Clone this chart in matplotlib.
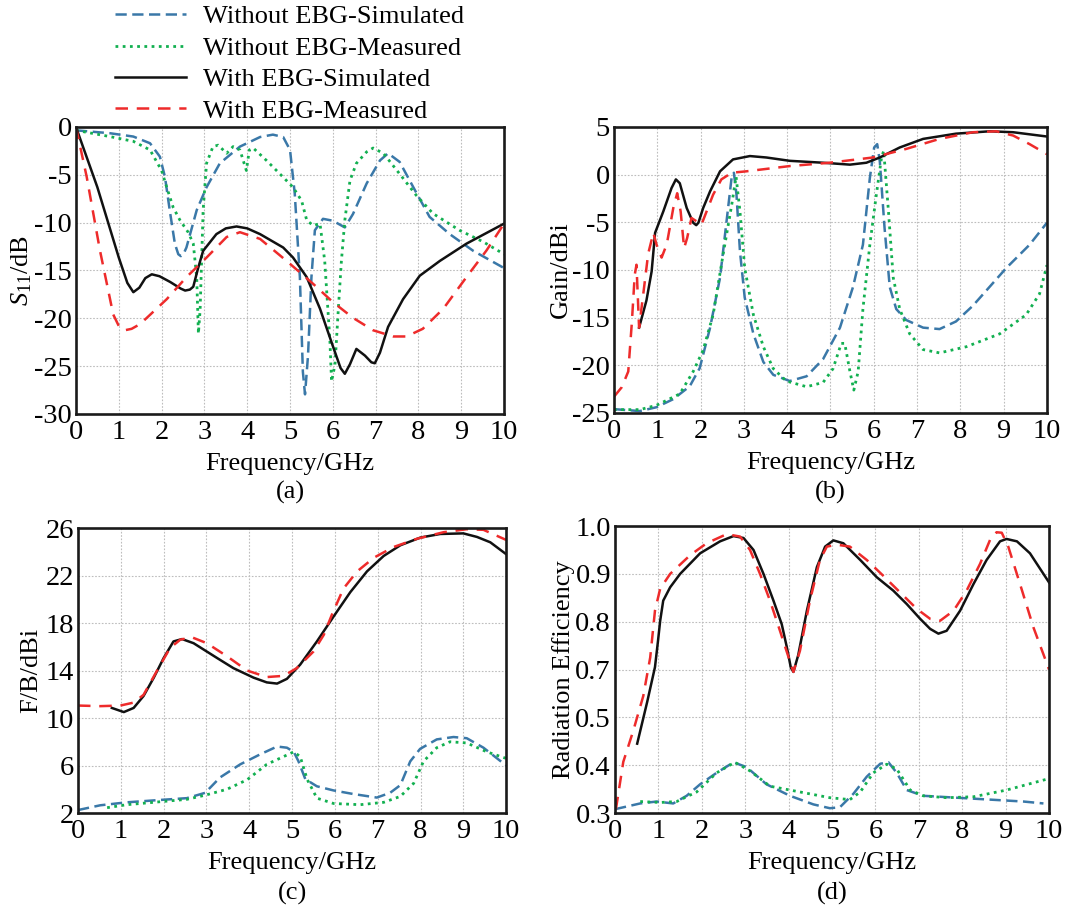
import numpy as np
import matplotlib
matplotlib.use('Agg')
import matplotlib.pyplot as plt

plt.rcParams['font.family'] = ['Liberation Serif', 'DejaVu Serif']
plt.rcParams['mathtext.fontset'] = 'custom'
plt.rcParams['mathtext.rm'] = 'Liberation Serif'
plt.rcParams['mathtext.it'] = 'Liberation Serif:italic'
plt.rcParams['axes.unicode_minus'] = False

BLUE = '#3a78a8'
GREEN = '#12b050'
RED = '#ee2b2b'
BLACK = '#111111'

labels = ['Without EBG-Simulated', 'Without EBG-Measured',
          'With EBG-Simulated', 'With EBG-Measured']

# ---------------- (a) S11 ----------------
s11_wo_sim_f = [0, 0.79, 1.34, 1.73, 1.96, 2.08, 2.19, 2.31, 2.39, 2.45, 2.52, 2.58, 2.82, 3.05,
                3.36, 3.83, 4.3, 4.6, 4.84, 5.0, 5.11, 5.23, 5.3, 5.35, 5.42, 5.5, 5.58, 5.77,
                6.0, 6.28, 6.47, 6.79, 7.1, 7.29, 7.56, 7.88, 8.26, 8.73, 9.28, 10]
s11_wo_sim = [-0.35, -0.65, -1.0, -1.7, -3.1, -5.25, -8.7, -12.2, -13.3, -13.5, -13.2, -12.6,
              -8.7, -6.3, -3.8, -2.05, -1.05, -0.8, -1.05, -2.4, -6.95, -15.7, -25.6, -27.95,
              -23.9, -15.7, -10.8, -9.6, -9.8, -10.5, -9.1, -5.9, -3.5, -2.75, -3.65, -6.3,
              -9.4, -11.2, -12.95, -14.75]

s11_wo_mea_f = [0, 0.79, 1.34, 1.73, 2.0, 2.12, 2.27, 2.43, 2.62, 2.74, 2.82, 2.86, 2.9, 2.97,
                3.05, 3.2, 3.32, 3.52, 3.67, 3.83, 3.98, 4.05, 4.14, 4.45, 4.84, 5.07, 5.27,
                5.39, 5.54, 5.7, 5.81, 5.93, 5.97, 6.05, 6.13, 6.2, 6.28, 6.4, 6.55, 6.79,
                6.94, 7.18, 7.56, 7.95, 8.34, 8.96, 9.51, 10]
s11_wo_mea = [-0.35, -1.0, -1.5, -2.4, -4.55, -6.3, -8.4, -9.75, -11.0, -12.2, -15.7, -21.6,
              -19.1, -8.7, -3.8, -2.05, -1.9, -2.75, -2.05, -2.4, -4.55, -2.4, -2.2, -3.5,
              -5.25, -6.3, -7.7, -9.75, -10.3, -10.1, -14.0, -22.2, -26.6, -24.85, -18.9,
              -14.0, -9.75, -5.6, -3.8, -2.6, -2.2, -2.75, -4.9, -7.15, -9.05, -10.8, -12.0, -13.3]

s11_w_sim_f = [0, 0.5, 1.0, 1.2, 1.34, 1.48, 1.62, 1.77, 1.95, 2.2, 2.45, 2.55, 2.66, 2.74, 2.85,
               2.97, 3.28, 3.5, 3.75, 4.0, 4.3, 4.84, 5.07, 5.39, 5.7, 6.0, 6.18, 6.28, 6.4,
               6.55, 6.75, 6.9, 6.98, 7.1, 7.29, 7.64, 8.03, 8.5, 9.12, 10]
s11_w_sim = [0, -6.3, -13.65, -16.3, -17.27, -16.8, -15.8, -15.4, -15.6, -16.2, -16.9, -17.1,
             -17.0, -16.7, -14.8, -12.95, -11.2, -10.6, -10.4, -10.6, -11.2, -12.6, -13.65,
             -15.7, -19.0, -22.9, -25.2, -25.8, -24.8, -23.2, -23.9, -24.6, -24.7, -23.6,
             -20.9, -18.0, -15.55, -14.0, -12.2, -10.1]

s11_w_mea_f = [0, 0.25, 0.56, 0.87, 1.0, 1.14, 1.3, 1.5, 2.12, 2.58, 3.05, 3.52, 3.83, 4.3, 4.92,
               5.54, 6.0, 6.47, 6.94, 7.41, 7.72, 8.1, 8.58, 9.12, 9.59, 10]
s11_w_mea = [0, -5.2, -12.9, -19.6, -20.8, -21.25, -21.1, -20.6, -18.0, -15.7, -13.65, -11.5,
             -11.0, -11.7, -14.0, -16.4, -18.3, -19.95, -21.25, -21.9, -21.9, -21.1, -19.0,
             -15.7, -12.9, -10.1]

# ---------------- (b) Gain ----------------
gain_wo_sim_f = [0, 0.6, 0.98, 1.37, 1.75, 1.98, 2.22, 2.45, 2.6, 2.72, 2.77, 2.83, 2.91, 3.02,
                 3.22, 3.45, 3.68, 4.06, 4.45, 4.83, 5.22, 5.52, 5.75, 5.91, 6.01, 6.08, 6.14,
                 6.25, 6.37, 6.52, 6.75, 7.14, 7.52, 7.9, 8.29, 9.06, 9.6, 10]
gain_wo_sim = [-24.6, -24.8, -24.4, -23.55, -22.2, -20.3, -16.05, -10.8, -4.9, -0.2, 0.2, -2.1,
               -8.05, -12.9, -16.7, -19.65, -21.0, -21.65, -21.15, -19.35, -16.05, -11.8, -7.35,
               -0.35, 2.85, 3.2, 1.4, -5.6, -11.8, -14.1, -15.25, -16.05, -16.2, -15.4, -13.75,
               -9.8, -7.35, -5.05]

gain_wo_mea_f = [0, 0.6, 0.98, 1.52, 1.83, 2.06, 2.29, 2.52, 2.72, 2.82, 2.91, 3.02, 3.22, 3.45,
                 3.68, 3.98, 4.45, 4.83, 5.06, 5.25, 5.33, 5.45, 5.54, 5.64, 5.75, 5.91, 6.06,
                 6.18, 6.23, 6.34, 6.45, 6.6, 6.83, 7.14, 7.52, 8.14, 8.91, 9.52, 9.83, 10]
gain_wo_mea = [-24.65, -24.65, -24.2, -23.0, -20.65, -18.4, -14.7, -8.4, -3.15, -0.2, -3.85,
               -9.8, -14.7, -18.05, -20.35, -21.65, -22.25, -21.8, -20.35, -17.7, -17.7, -20.65,
               -22.6, -20.65, -14.1, -7.35, -2.1, 1.8, 2.5, -3.85, -10.8, -14.1, -16.7, -18.35,
               -18.7, -18.05, -16.7, -14.7, -12.5, -9.5]

gain_w_sim_f = [0.58, 0.75, 0.87, 0.95, 1.14, 1.33, 1.43, 1.52, 1.68, 1.83, 1.9, 1.95, 2.06, 2.22,
                2.45, 2.75, 3.14, 3.52, 4.06, 4.83, 5.45, 5.83, 6.14, 6.6, 7.14, 7.9, 8.68,
                9.22, 10]
gain_w_sim = [-16.05, -13.2, -10.15, -6.1, -3.85, -1.4, -0.5, -0.9, -3.5, -5.05, -5.3, -5.05,
              -3.5, -1.75, 0.35, 1.6, 1.95, 1.8, 1.45, 1.25, 1.05, 1.25, 1.8, 2.85, 3.75, 4.3,
              4.55, 4.45, 4.0]

gain_w_mea_f = [0, 0.18, 0.33, 0.41, 0.48, 0.52, 0.58, 0.68, 0.79, 0.91, 0.98, 1.1, 1.22, 1.37,
                1.46, 1.54, 1.62, 1.69, 1.79, 1.91, 2.02, 2.14, 2.29, 2.48, 2.72, 3.06, 4.06,
                4.98, 5.98, 6.75, 7.52, 8.29, 8.83, 9.22, 9.6, 10]
gain_w_mea = [-23.3, -22.3, -20.65, -15.7, -10.5, -9.45, -16.05, -12.4, -8.3, -6.1, -7.3, -8.7,
              -7.3, -3.5, -1.95, -3.85, -7.7, -6.65, -4.55, -4.9, -5.25, -3.85, -2.1, -0.5,
              0.2, 0.35, 0.9, 1.25, 1.8, 2.7, 3.75, 4.45, 4.55, 4.1, 3.2, 2.15]

# ---------------- (c) F/B ----------------
fb_wo_sim_f = [0, 0.52, 1.14, 1.92, 2.54, 2.97, 3.32, 3.79, 4.26, 4.65, 4.88, 5.04, 5.15, 5.31,
               5.58, 5.97, 6.43, 6.98, 7.29, 7.53, 7.76, 7.99, 8.38, 8.77, 9.08, 9.47, 10]
fb_wo_sim = [2.25, 2.65, 2.9, 3.1, 3.25, 3.7, 5.0, 6.1, 6.95, 7.6, 7.5, 7.15, 6.35, 4.85, 4.25,
             3.9, 3.6, 3.3, 3.7, 4.35, 6.35, 7.4, 8.2, 8.4, 8.3, 7.5, 6.0]

fb_wo_mea_f = [0.68, 1.14, 1.92, 2.54, 2.97, 3.48, 3.95, 4.41, 4.8, 5.04, 5.19, 5.35, 5.58, 5.97,
               6.59, 7.14, 7.53, 7.84, 8.07, 8.38, 8.69, 9.08, 9.55, 10]
fb_wo_mea = [2.45, 2.7, 2.95, 3.15, 3.5, 4.0, 4.8, 6.1, 6.75, 7.15, 6.75, 4.85, 3.25, 2.8, 2.7,
             2.9, 3.4, 4.5, 6.35, 7.5, 8.0, 7.9, 7.15, 6.6]

fb_w_sim_f = [0.79, 1.07, 1.3, 1.53, 1.77, 2.0, 2.23, 2.43, 2.7, 3.25, 3.63, 4.1, 4.41, 4.65,
              4.88, 5.19, 5.58, 5.97, 6.36, 6.75, 7.14, 7.53, 8.0, 8.46, 9.0, 9.32, 9.63, 10]
fb_w_sim = [10.85, 10.5, 10.85, 11.85, 13.4, 15.05, 16.45, 16.65, 16.3, 15.05, 14.2, 13.4, 13.0,
            12.9, 13.3, 14.5, 16.45, 18.55, 20.6, 22.35, 23.65, 24.55, 25.2, 25.5, 25.55,
            25.25, 24.8, 23.8]

fb_w_mea_f = [0, 0.52, 0.99, 1.3, 1.53, 1.84, 2.15, 2.39, 2.66, 3.01, 3.48, 3.95, 4.41, 4.8,
              5.11, 5.5, 5.74, 5.93, 6.2, 6.52, 6.91, 7.37, 7.92, 8.54, 9.08, 9.47, 10]
fb_w_mea = [11.05, 11.0, 11.05, 11.3, 11.95, 13.95, 15.9, 16.6, 16.8, 16.3, 15.2, 14.0, 13.45,
            13.55, 14.2, 15.6, 17.0, 18.7, 20.9, 22.35, 23.5, 24.4, 25.1, 25.65, 25.9, 25.85,
            25.0]

# ---------------- (d) Radiation efficiency ----------------
eff_wo_sim_f = [0, 0.58, 0.96, 1.34, 1.65, 1.96, 2.34, 2.73, 3.03, 3.49, 4.03, 4.57, 4.95, 5.18,
                5.49, 5.8, 6.11, 6.3, 6.49, 6.72, 7.1, 7.87, 8.64, 9.41, 9.87]
eff_wo_sim = [0.308, 0.32, 0.324, 0.32, 0.336, 0.36, 0.384, 0.406, 0.396, 0.36, 0.336, 0.318,
              0.31, 0.312, 0.34, 0.376, 0.403, 0.406, 0.384, 0.348, 0.336, 0.332, 0.328, 0.324,
              0.32]

eff_wo_mea_f = [0.58, 1.04, 1.42, 1.88, 2.34, 2.76, 3.11, 3.57, 4.26, 4.95, 5.41, 5.65, 5.95,
                6.26, 6.49, 6.8, 7.1, 7.64, 8.26, 9.02, 10]
eff_wo_mea = [0.324, 0.322, 0.324, 0.344, 0.384, 0.406, 0.388, 0.356, 0.344, 0.332, 0.328, 0.344,
              0.384, 0.402, 0.392, 0.348, 0.336, 0.332, 0.334, 0.348, 0.372]

eff_w_sim_f = [0.51, 0.74, 0.92, 0.99, 1.04, 1.11, 1.27, 1.5, 1.96, 2.42, 2.73, 2.96, 3.19, 3.42,
               3.65, 3.84, 3.96, 4.05, 4.11, 4.22, 4.42, 4.65, 4.84, 5.03, 5.26, 5.65, 6.03,
               6.41, 6.72, 7.03, 7.26, 7.45, 7.64, 7.95, 8.26, 8.56, 8.87, 9.02, 9.26, 9.56, 10]
eff_w_sim = [0.445, 0.564, 0.705, 0.76, 0.802, 0.844, 0.872, 0.9, 0.943, 0.968, 0.979, 0.975,
             0.95, 0.9, 0.844, 0.795, 0.746, 0.704, 0.69, 0.73, 0.823, 0.914, 0.957, 0.97, 0.964,
             0.929, 0.893, 0.865, 0.837, 0.806, 0.785, 0.775, 0.781, 0.823, 0.879, 0.929, 0.968,
             0.973, 0.968, 0.943, 0.882]

eff_w_mea_f = [0.02, 0.19, 0.42, 0.65, 0.81, 0.92, 1.04, 1.27, 1.73, 2.11, 2.57, 2.88, 3.11, 3.34,
               3.57, 3.8, 4.0, 4.11, 4.26, 4.49, 4.72, 4.88, 5.11, 5.41, 5.8, 6.18, 6.57, 6.95,
               7.26, 7.49, 7.8, 8.1, 8.41, 8.64, 8.79, 8.91, 9.06, 9.33, 9.64, 10]
eff_w_mea = [0.308, 0.407, 0.472, 0.589, 0.725, 0.823, 0.869, 0.9, 0.939, 0.964, 0.983, 0.978,
             0.95, 0.9, 0.844, 0.781, 0.725, 0.69, 0.739, 0.844, 0.929, 0.957, 0.961, 0.957,
             0.929, 0.896, 0.861, 0.827, 0.806, 0.802, 0.823, 0.865, 0.921, 0.971, 0.987, 0.986,
             0.957, 0.879, 0.788, 0.7]

eff_ticks = [0.3, 0.4, 0.5, 0.7, 0.8, 0.9, 1.0]

# ---------------- styles ----------------
st_wo_sim = dict(color=BLUE, lw=1.8, dashes=(4.5, 2.2))
st_wo_mea = dict(color=GREEN, lw=2.0, dashes=(1.0, 1.6))
st_w_sim = dict(color=BLACK, lw=1.8, linestyle='-')
st_w_mea = dict(color=RED, lw=1.8, dashes=(5.0, 3.5))

TICK_FS = 20.5
LAB_FS = 19

fig = plt.figure(figsize=(10.73, 9.09), dpi=100)

ax_a = fig.add_axes([0.0708, 0.5446, 0.399, 0.3157])
ax_b = fig.add_axes([0.5722, 0.5457, 0.4035, 0.3146])
ax_c = fig.add_axes([0.0727, 0.1056, 0.399, 0.3135])
ax_d = fig.add_axes([0.5732, 0.1056, 0.4045, 0.3157])


def fwd(v):
    return np.interp(v, eff_ticks, np.arange(len(eff_ticks)))


def inv(p):
    return np.interp(p, np.arange(len(eff_ticks)), eff_ticks)


ax_d.set_yscale('function', functions=(fwd, inv))

panels = [
    (ax_a, (s11_wo_sim_f, s11_wo_sim), (s11_wo_mea_f, s11_wo_mea),
     (s11_w_sim_f, s11_w_sim), (s11_w_mea_f, s11_w_mea)),
    (ax_b, (gain_wo_sim_f, gain_wo_sim), (gain_wo_mea_f, gain_wo_mea),
     (gain_w_sim_f, gain_w_sim), (gain_w_mea_f, gain_w_mea)),
    (ax_c, (fb_wo_sim_f, fb_wo_sim), (fb_wo_mea_f, fb_wo_mea),
     (fb_w_sim_f, fb_w_sim), (fb_w_mea_f, fb_w_mea)),
    (ax_d, (eff_wo_sim_f, eff_wo_sim), (eff_wo_mea_f, eff_wo_mea),
     (eff_w_sim_f, eff_w_sim), (eff_w_mea_f, eff_w_mea)),
]

for ax, wo_sim, wo_mea, w_sim, w_mea in panels:
    ax.plot(*wo_sim, label=labels[0], **st_wo_sim)
    ax.plot(*wo_mea, label=labels[1], **st_wo_mea)
    ax.plot(*w_sim, label=labels[2], **st_w_sim)
    ax.plot(*w_mea, label=labels[3], **st_w_mea)
    ax.set_xlim(0, 10)
    ax.set_xticks(range(11))
    ax.grid(True, color='#bdbdbd', linestyle=(0, (1.5, 1.5)), linewidth=0.8)
    ax.set_axisbelow(True)
    ax.tick_params(axis='x', length=0, labelsize=TICK_FS, pad=4)
    ax.tick_params(axis='y', length=0, labelsize=TICK_FS, pad=3)
    for sp in ax.spines.values():
        sp.set_linewidth(1.9)
        sp.set_color('#1a1a1a')
    ax.set_xlabel('Frequency/GHz', fontsize=LAB_FS, labelpad=6)

ax_a.set_ylim(-30, 0)
ax_a.set_yticks(range(-30, 1, 5))
ax_a.set_ylabel(r'$S_{11}$/dB', fontsize=LAB_FS, labelpad=0)

ax_b.set_ylim(-25, 5)
ax_b.set_yticks(range(-25, 6, 5))
ax_b.set_ylabel('Gain/dBi', fontsize=LAB_FS, labelpad=0)

ax_c.set_ylim(2, 26)
ax_c.set_yticks(range(2, 27, 4))
ax_c.set_ylabel('F/B/dBi', fontsize=LAB_FS, labelpad=2)

ax_d.set_ylim(0.3, 1.0)
ax_d.set_yticks(eff_ticks)
ax_d.set_yticklabels(['%.1f' % t for t in eff_ticks])
ax_d.minorticks_off()
ax_d.set_ylabel('Radiation Efficiency', fontsize=LAB_FS, labelpad=0)

# panel tags under each x label
for ax, tag, y in [(ax_a, '(a)', 0.458), (ax_b, '(b)', 0.458),
                   (ax_c, '(c)', 0.017), (ax_d, '(d)', 0.017)]:
    bb = ax.get_position()
    fig.text((bb.x0 + bb.x1) / 2, y, tag, ha='center', va='center', fontsize=LAB_FS)

handles, labs = ax_a.get_legend_handles_labels()
fig.legend(handles, labs, loc='upper left', bbox_to_anchor=(0.092, 1.012),
           frameon=False, fontsize=LAB_FS, handlelength=2.7, handletextpad=0.65,
           labelspacing=0.3, borderaxespad=0.2)

fig.savefig('out.png', dpi=100)
